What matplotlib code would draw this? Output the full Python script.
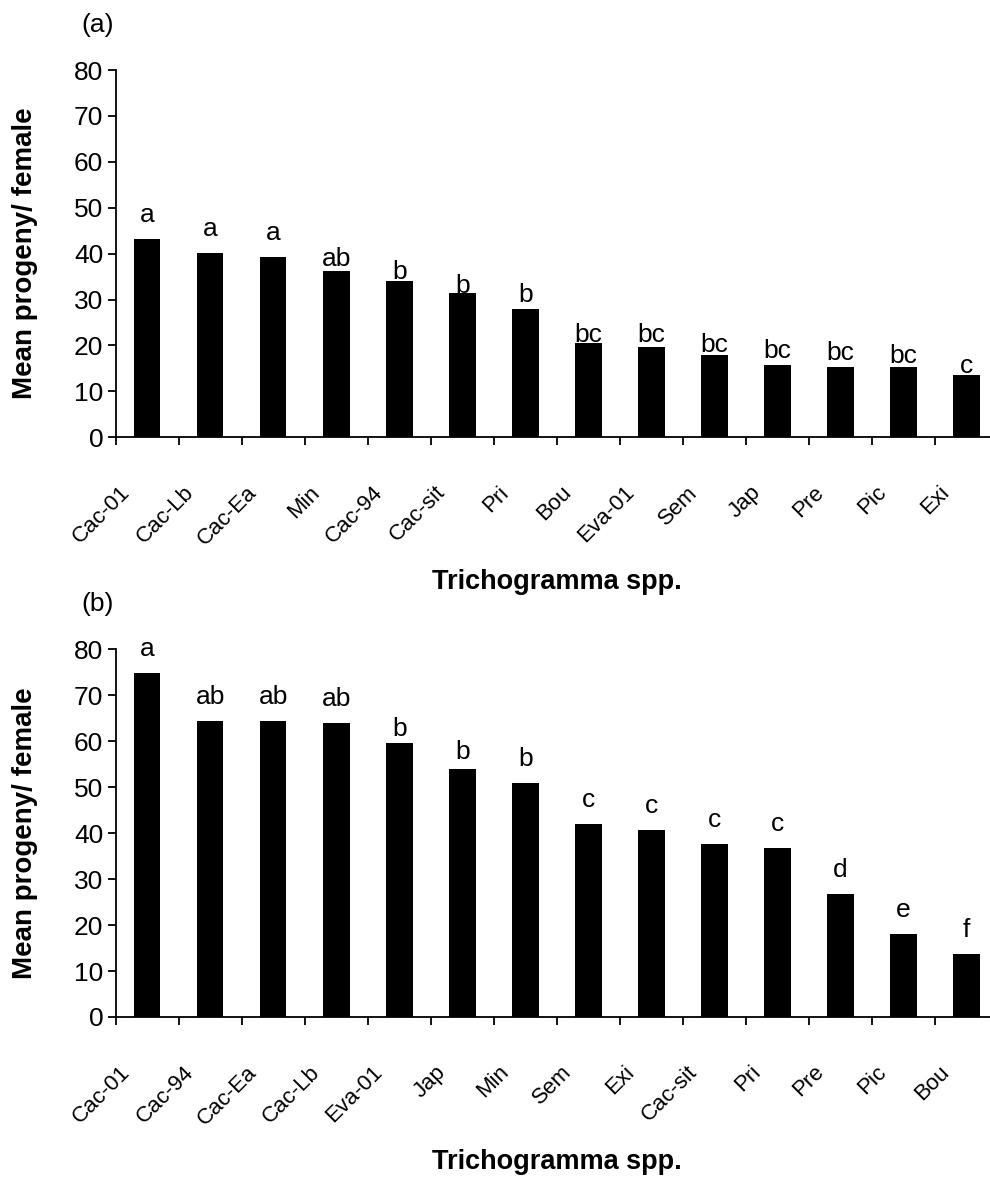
import matplotlib
matplotlib.use("Agg")
import matplotlib.pyplot as plt
import matplotlib.transforms as mtransforms
import numpy as np

plt.rcParams['font.family'] = ['Liberation Sans', 'DejaVu Sans']

# ---------------- data ----------------
species_a = ["Cac-01", "Cac-Lb", "Cac-Ea", "Min", "Cac-94", "Cac-sit", "Pri",
             "Bou", "Eva-01", "Sem", "Jap", "Pre", "Pic", "Exi"]
progeny_a = [43.2, 40.1, 39.3, 36.2, 34.1, 31.4, 28.0,
             20.5, 19.7, 18.0, 15.8, 15.3, 15.3, 13.6]
letters_a = ["a", "a", "a", "ab", "b", "b", "b",
             "bc", "bc", "bc", "bc", "bc", "bc", "c"]

species_b = ["Cac-01", "Cac-94", "Cac-Ea", "Cac-Lb", "Eva-01", "Jap", "Min",
             "Sem", "Exi", "Cac-sit", "Pri", "Pre", "Pic", "Bou"]
progeny_b = [74.8, 64.5, 64.5, 63.9, 59.7, 54.0, 51.0,
             41.9, 40.6, 37.6, 36.7, 26.7, 18.0, 13.7]
letters_b = ["a", "ab", "ab", "ab", "b", "b", "b",
             "c", "c", "c", "c", "d", "e", "f"]

yticks = [0, 10, 20, 30, 40, 50, 60, 70, 80]
ylabel = "Mean progeny/ female"
xlabel = "Trichogramma spp."

# ---------------- style / layout ----------------
W, H, DPI = 990, 1178, 100
# gap (px) between bar top and letter baseline
gap_a = [17, 17, 17, 5, 2, 0, 7, 1, 5, 3, 7, 7, 4, 2]
gap_b = [17, 17, 17, 17, 7, 10, 17, 17, 17, 17, 17, 17, 17, 17]

fig = plt.figure(figsize=(W / DPI, H / DPI), dpi=DPI)
fig.patch.set_facecolor("white")

x_left, x_right = 115.7, 998.0


def make_panel(top_px, bot_px, names, vals, letters, gaps, tag, tag_y):
    ax = fig.add_axes([x_left / W, (H - bot_px) / H,
                       (x_right - x_left) / W, (bot_px - top_px) / H])
    x = np.arange(len(names))
    ax.bar(x, vals, width=0.42, color="black", edgecolor="none")
    ax.set_xlim(-0.5, len(names) - 0.5)
    ax.set_ylim(0, 80)
    for s in ("top", "right"):
        ax.spines[s].set_visible(False)
    for s in ("left", "bottom"):
        ax.spines[s].set_linewidth(1.3)
        ax.spines[s].set_color("black")
    ax.set_yticks(yticks)
    ax.set_yticklabels([str(v) for v in yticks], fontsize=19)
    ax.tick_params(axis="y", direction="out", length=6, width=1.3, pad=3)
    # boundary ticks on x
    ax.set_xticks(np.arange(-0.5, len(names) + 0.5, 1.0))
    ax.set_xticklabels([])
    ax.tick_params(axis="x", direction="out", length=5.5, width=1.3)
    # rotated category labels
    off = mtransforms.ScaledTranslation(-16 / DPI, -56 / DPI, fig.dpi_scale_trans)
    trans = mtransforms.blended_transform_factory(ax.transData, ax.transAxes) + off
    for xi, name in zip(x, names):
        ax.text(xi, 0, name, transform=trans, rotation=45, ha="right",
                va="baseline", rotation_mode="anchor", fontsize=16,
                clip_on=False)
    # significance letters
    for xi, v, lt, g in zip(x, vals, letters, gaps):
        ax.annotate(lt, (xi, v), xytext=(0, g * 72 / DPI),
                    textcoords="offset points", ha="center", va="baseline",
                    fontsize=19)
    # labels
    fig.text(25 / W, 1 - ((top_px + bot_px) / 2) / H, ylabel, rotation=90,
             ha="center", va="center", fontsize=20, fontweight="bold")
    fig.text(((x_left + x_right) / 2) / W, 1 - (bot_px + 145) / H, xlabel,
             ha="center", va="center", fontsize=19.5, fontweight="bold")
    fig.text(98 / W, 1 - tag_y / H, tag, ha="center", va="center", fontsize=19)
    return ax


make_panel(70.0, 437.3, species_a, progeny_a, letters_a, gap_a, "(a)", 25)
make_panel(649.3, 1017.0, species_b, progeny_b, letters_b, gap_b, "(b)", 604)

fig.savefig("out.png", dpi=DPI, facecolor="white")
